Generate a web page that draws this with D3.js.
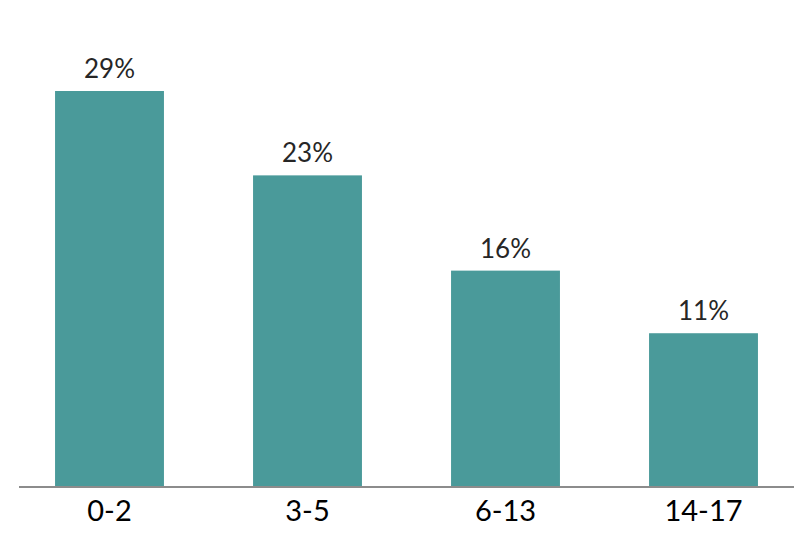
<!DOCTYPE html>
<html lang="en">
<head>
	<meta charset="UTF-8">
	<title>Age groups</title>
	<script src="https://cdn.jsdelivr.net/npm/d3@7"></script>
	<style>
		body { margin: 0; background: #fff; }
		svg { display: block; font-family: Lato, sans-serif; }
	</style>
</head>
<body>
	<svg id="viz"></svg>
	<script>
		// values
		const ageGroups = ['0-2', '3-5', '6-13', '14-17'];
		const shares = [29.1, 22.9, 15.9, 11.3];
		const shareLabels = ['29%', '23%', '16%', '11%'];

		const width = 812;
		const height = 546;
		const baseline = 487;

		const svg = d3.select('#viz')
			.attr('width', width)
			.attr('height', height);

		const x = d3.scaleBand()
			.domain(ageGroups)
			.range([10.5, 802.5])
			.paddingInner(0.45)
			.paddingOuter(0.225);

		const y = d3.scaleLinear()
			.domain([0, 29.1])
			.range([baseline, 91]);

		const data = ageGroups.map((g, i) => ({ group: g, value: shares[i], label: shareLabels[i] }));

		svg.selectAll('rect.bar')
			.data(data)
			.join('rect')
			.attr('class', 'bar')
			.attr('x', d => x(d.group))
			.attr('width', x.bandwidth())
			.attr('y', d => y(d.value))
			.attr('height', d => baseline - y(d.value))
			.attr('fill', '#4a9a9a');

		svg.selectAll('text.val')
			.data(data)
			.join('text')
			.attr('class', 'val')
			.attr('x', d => x(d.group) + x.bandwidth() / 2)
			.attr('y', d => y(d.value) - 13)
			.attr('text-anchor', 'middle')
			.attr('font-size', 26)
			.attr('fill', '#262626')
			.text(d => d.label);

		// bottom axis, only the line and the labels
		const xAxis = d3.axisBottom(x).tickSize(0).tickPadding(13);
		const g = svg.append('g')
			.attr('transform', `translate(0,${baseline})`)
			.call(xAxis);
		g.select('.domain').remove();
		g.append('line')
			.attr('x1', 19)
			.attr('x2', 794)
			.attr('stroke', '#8c8c8c')
			.attr('stroke-width', 2);
		g.selectAll('.tick text')
			.attr('font-family', 'Lato, sans-serif')
			.attr('font-size', 29)
			.attr('fill', '#000');
	</script>
</body>
</html>
